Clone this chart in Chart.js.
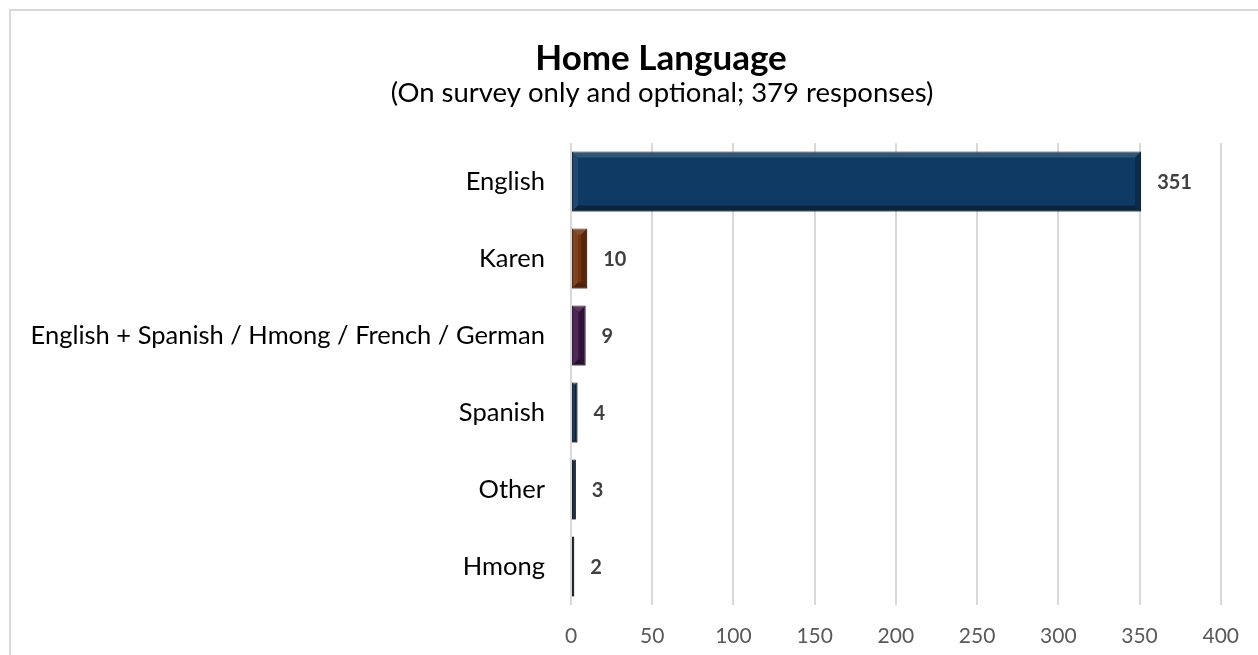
<!DOCTYPE html>
<html>
<head>
<meta charset="utf-8">
<script src="https://cdn.jsdelivr.net/npm/chart.js@4"></script>
<style>
  html, body { margin: 0; padding: 0; background: #fff; overflow: hidden; }
  #frame { position: absolute; left: 9px; top: 9px; width: 1400px; height: 800px; border: 2px solid #d9d9d9; }
  #wrap { position: absolute; left: 0; top: 0; width: 1258px; height: 655px; }
</style>
</head>
<body>
<div id="frame"></div>
<div id="wrap"><canvas id="homeLanguageChart"></canvas></div>
<script>
const categories = ['English', 'Karen', 'English + Spanish / Hmong / French / German', 'Spanish', 'Other', 'Hmong'];
const responses = [351, 10, 9, 4, 3, 2];
const xMax = 400;
const xStep = 50;
const titleText = 'Home Language';
const subtitleText = '(On survey only and optional; 379 responses)';

const barColors = ['#0f3a63', '#743411', '#3f1748', '#0f2e4c', '#0e243d', '#0b1a2d'];
const barEdges = ['#061a30', '#3e1a06', '#220a28', '#061626', '#05111e', '#040b14'];

const FONT = 'Lato, "Open Sans", sans-serif';

// title is centred on the whole (wider) chart frame, not the canvas
const headings = {
    id: 'headings',
    afterDraw(chart) {
        const c = chart.ctx;
        c.save();
        c.fillStyle = '#000';
        c.textAlign = 'center';
        c.textBaseline = 'middle';
        c.font = 'bold 35px ' + FONT;
        c.fillText(titleText, 661, 59);
        c.font = '27.5px ' + FONT;
        c.fillText(subtitleText, 662, 93);
        c.restore();
    }
};

// bevel shading on each bar + value labels to the right
const barExtras = {
    id: 'barExtras',
    afterDatasetsDraw(chart) {
        const c = chart.ctx;
        const meta = chart.getDatasetMeta(0);
        c.save();
        meta.data.forEach((bar, i) => {
            const x0 = bar.base, x1 = bar.x;
            const y0 = bar.y - bar.height / 2, y1 = bar.y + bar.height / 2;
            const b = Math.min(6, (x1 - x0) / 2, bar.height / 2);
            if (b < 1) return;
            c.fillStyle = 'rgba(255,255,255,0.14)';
            c.beginPath();
            c.moveTo(x0, y0); c.lineTo(x1, y0); c.lineTo(x1 - b, y0 + b); c.lineTo(x0 + b, y0 + b); c.closePath();
            c.fill();
            c.fillStyle = 'rgba(255,255,255,0.08)';
            c.beginPath();
            c.moveTo(x0, y0); c.lineTo(x0 + b, y0 + b); c.lineTo(x0 + b, y1 - b); c.lineTo(x0, y1); c.closePath();
            c.fill();
            c.fillStyle = 'rgba(0,0,0,0.35)';
            c.beginPath();
            c.moveTo(x0, y1); c.lineTo(x1, y1); c.lineTo(x1 - b, y1 - b); c.lineTo(x0 + b, y1 - b); c.closePath();
            c.fill();
            c.fillStyle = 'rgba(0,0,0,0.25)';
            c.beginPath();
            c.moveTo(x1, y0); c.lineTo(x1, y1); c.lineTo(x1 - b, y1 - b); c.lineTo(x1 - b, y0 + b); c.closePath();
            c.fill();
        });
        c.font = 'bold 20px ' + FONT;
        c.fillStyle = '#404040';
        c.textAlign = 'left';
        c.textBaseline = 'middle';
        meta.data.forEach((bar, i) => {
            c.fillText(String(responses[i]), bar.x + 16, bar.y + 1);
        });
        c.restore();
    }
};

const ctx = document.getElementById('homeLanguageChart');
new Chart(ctx, {
    type: 'bar',
    data: {
        labels: categories,
        datasets: [{
            data: responses,
            backgroundColor: barColors,
            borderColor: barEdges,
            borderWidth: 1,
            borderSkipped: false,
            barPercentage: 0.78,
            categoryPercentage: 1
        }]
    },
    options: {
        indexAxis: 'y',
        responsive: true,
        maintainAspectRatio: false,
        animation: false,
        layout: {
            padding: { left: 0, right: 36, top: 143, bottom: 0 }
        },
        plugins: {
            legend: { display: false },
            tooltip: { enabled: false },
            title: { display: false }
        },
        scales: {
            x: {
                min: 0,
                max: xMax,
                border: { display: false },
                grid: {
                    color: '#d9d9d9',
                    lineWidth: 2,
                    drawTicks: false
                },
                afterFit(scale) { scale.height = 50; },
                ticks: {
                    stepSize: xStep,
                    color: '#595959',
                    padding: 19,
                    maxRotation: 0,
                    font: { family: FONT, size: 21 }
                }
            },
            y: {
                border: { display: false },
                grid: { display: false, drawTicks: false },
                afterFit(scale) { scale.width = 571; },
                ticks: {
                    color: '#000',
                    padding: 26,
                    font: { family: FONT, size: 25.5 }
                }
            }
        }
    },
    plugins: [barExtras, headings]
});
</script>
</body>
</html>
